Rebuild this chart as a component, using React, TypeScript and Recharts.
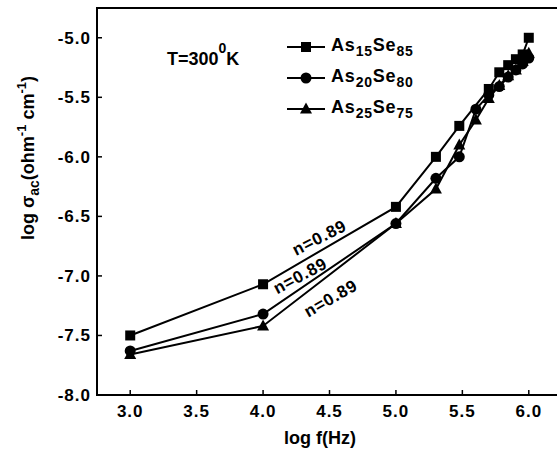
import { LineChart, Line, XAxis, YAxis, ReferenceArea, ReferenceDot, Legend } from "recharts";

// log f (Hz) points used by each sample
const LOG_F_15 = [3.0, 4.0, 5.0, 5.301, 5.477, 5.699, 5.778, 5.845, 5.903, 5.954, 6.0];
const LOG_F_ALL = [3.0, 4.0, 5.0, 5.301, 5.477, 5.602, 5.699, 5.778, 5.845, 5.903, 5.954, 6.0];

// log sigma_ac (ohm^-1 cm^-1)
const SIGMA_15 = [-7.5, -7.07, -6.42, -6.0, -5.74, -5.43, -5.29, -5.23, -5.18, -5.14, -5.0];
const SIGMA_20 = [-7.63, -7.32, -6.56, -6.18, -6.0, -5.6, -5.48, -5.41, -5.33, -5.27, -5.22, -5.17];
const SIGMA_25 = [-7.66, -7.42, -6.56, -6.27, -5.9, -5.69, -5.51, -5.4, -5.32, -5.27, -5.2, -5.13];

const X_TICKS = [3.0, 3.5, 4.0, 4.5, 5.0, 5.5, 6.0];
const Y_TICKS = [-8.0, -7.5, -7.0, -6.5, -6.0, -5.5, -5.0];

// n labels, anchored in data coords
const N_LABELS = [
  { x: 4.425, y: -6.68, angle: -27 },
  { x: 4.28, y: -7.0, angle: -28 },
  { x: 4.51, y: -7.19, angle: -30 },
];

const FONT = "'Liberation Sans', Arial, sans-serif";

const zip = (xs: number[], ys: number[]) => xs.map((f, i) => ({ f, s: ys[i] }));

const SERIES = [
  { key: "as15", as: "15", se: "85", shape: "square", data: zip(LOG_F_15, SIGMA_15) },
  { key: "as20", as: "20", se: "80", shape: "circle", data: zip(LOG_F_ALL, SIGMA_20) },
  { key: "as25", as: "25", se: "75", shape: "triangle", data: zip(LOG_F_ALL, SIGMA_25) },
];

function Marker({ cx, cy, shape }: { cx: number; cy: number; shape: string }) {
  if (cx == null || cy == null) return null;
  if (shape === "square") return <rect x={cx - 5} y={cy - 5} width={10} height={10} fill="#000" />;
  if (shape === "circle") return <circle cx={cx} cy={cy} r={5.5} fill="#000" />;
  return <polygon points={`${cx},${cy - 6.5} ${cx + 6},${cy + 4.5} ${cx - 6},${cy + 4.5}`} fill="#000" />;
}

function LegendBox() {
  return (
    <div style={{ fontFamily: FONT, fontWeight: "bold", fontSize: 18, color: "#000", textAlign: "left" }}>
      {SERIES.map((s) => (
        <div key={s.key} style={{ display: "flex", alignItems: "center", height: 31 }}>
          <svg width={40} height={20} style={{ marginRight: 4 }}>
            <line x1={0} y1={10} x2={38} y2={10} stroke="#000" strokeWidth={2} />
            <Marker cx={19} cy={10} shape={s.shape} />
          </svg>
          <span style={{ letterSpacing: 0.8 }}>
            As<sub style={{ fontSize: 14 }}>{s.as}</sub>Se<sub style={{ fontSize: 14 }}>{s.se}</sub>
          </span>
        </div>
      ))}
    </div>
  );
}

const tickStyle = { fill: "#000", fontSize: 17, fontWeight: "bold", fontFamily: FONT, letterSpacing: 1 };

export default function App() {
  return (
    <div style={{ position: "absolute", left: 0, top: 0, width: 557, height: 451, overflow: "hidden", background: "#fff" }}>
      <LineChart width={575} height={451} margin={{ top: 8, right: 13, bottom: 0, left: 0 }}>
        <XAxis
          type="number"
          dataKey="f"
          domain={[2.75, 6.25]}
          ticks={X_TICKS}
          allowDataOverflow
          height={56}
          tickFormatter={(v: number) => v.toFixed(1)}
          tick={tickStyle}
          axisLine={{ stroke: "#000", strokeWidth: 2 }}
          tickLine={{ stroke: "#000", strokeWidth: 1.5 }}
          tickSize={-5}
          tickMargin={15}
        />
        <YAxis
          type="number"
          domain={[-8.0, -4.75]}
          ticks={Y_TICKS}
          allowDataOverflow
          width={97}
          tickFormatter={(v: number) => v.toFixed(1)}
          tick={tickStyle}
          axisLine={{ stroke: "#000", strokeWidth: 2 }}
          tickLine={{ stroke: "#000", strokeWidth: 1.5 }}
          tickSize={-5}
          tickMargin={11}
        />
        <ReferenceArea x1={2.75} x2={6.25} y1={-8.0} y2={-4.75} fill="none" stroke="#000" strokeWidth={2} />
        {SERIES.map((s) => (
          <Line
            key={s.key}
            data={s.data}
            dataKey="s"
            name={s.key}
            stroke="#000"
            strokeWidth={2}
            isAnimationActive={false}
            dot={(p: any) => <Marker key={`${s.key}-${p.index}`} cx={p.cx} cy={p.cy} shape={s.shape} />}
            activeDot={false}
          />
        ))}
        {N_LABELS.map((n, i) => (
          <ReferenceDot
            key={i}
            x={n.x}
            y={n.y}
            r={0}
            shape={(p: any) => (
              <text
                x={p.cx}
                y={p.cy}
                transform={`rotate(${n.angle} ${p.cx} ${p.cy})`}
                textAnchor="middle"
                dominantBaseline="central"
                fontFamily={FONT}
                fontWeight="bold"
                fontSize={17}
                letterSpacing={0.8}
                fill="#000"
              >
                n=0.89
              </text>
            )}
          />
        ))}
        <Legend
          layout="vertical"
          verticalAlign="middle"
          align="center"
          wrapperStyle={{ left: 287, top: 31, width: 220, bottom: "auto", right: "auto" }}
          content={() => <LegendBox />}
        />
      </LineChart>
      <svg width={557} height={451} style={{ position: "absolute", left: 0, top: 0, pointerEvents: "none" }}>
        <text x={167} y={65} fontFamily={FONT} fontWeight="bold" fontSize={18} fill="#000">
          T=300<tspan fontSize={14} dy={-12}>0</tspan><tspan dy={12}>K</tspan>
        </text>
        <text x={320} y={444} textAnchor="middle" fontFamily={FONT} fontWeight="bold" fontSize={18} fill="#000">
          log f(Hz)
        </text>
        <text
          transform="rotate(-90 34 158)"
          x={34}
          y={158}
          textAnchor="middle"
          fontFamily={FONT}
          fontWeight="bold"
          fontSize={18}
          fill="#000"
        >
          log σ<tspan fontSize={14} dy={5}>ac</tspan>
          <tspan dy={-5}>(ohm</tspan>
          <tspan fontSize={13} dy={-8}>-1</tspan>
          <tspan dy={8}> cm</tspan>
          <tspan fontSize={13} dy={-8}>-1</tspan>
          <tspan dy={8}>)</tspan>
        </text>
      </svg>
    </div>
  );
}
